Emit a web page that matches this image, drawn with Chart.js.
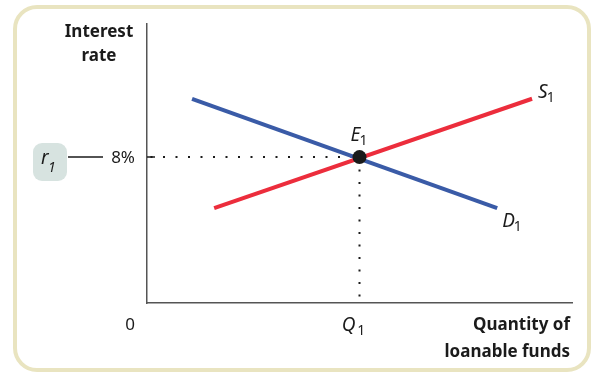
<!DOCTYPE html>
<html>
<head>
<meta charset="utf-8">
<script src="https://cdn.jsdelivr.net/npm/chart.js@4"></script>
<style>
  body { margin: 0; background: #fff; }
  canvas { display: block; }
</style>
</head>
<body>
<canvas id="fondosChart" width="592" height="374"></canvas>
<script>
// datos (cantidad 0-100, tasa en %)
const demandaCantidad = [10.6, 82.4];
const demandaTasa = [11.2, 5.2];
const ofertaCantidad = [15.8, 90.6];
const ofertaTasa = [5.2, 11.2];
const equilibrioCantidad = [50];
const equilibrioTasa = [8];
const etiquetaTasa = '8%';
const etiquetaCantidad = 'Q';
const etiquetaOrigen = '0';
const tituloY = ['Interest', 'rate'];
const tituloX = ['Quantity of', 'loanable funds'];

const FUENTE = '"Noto Sans", "DejaVu Sans", sans-serif';
const TINTA = '#1b1b1b';

function puntos(xs, ys) {
    return xs.map((x, i) => ({ x: x, y: ys[i] }));
}

// texto con subindice: letra en cursiva + "1"
function textoSub(ctx, letra, sub, x, y, align) {
    ctx.save();
    ctx.textBaseline = 'alphabetic';
    ctx.font = 'italic 19px ' + FUENTE;
    const w1 = ctx.measureText(letra).width;
    ctx.font = '14px ' + FUENTE;
    const w2 = ctx.measureText(sub).width;
    let x0 = x;
    if (align === 'center') x0 = x - (w1 + w2) / 2;
    ctx.fillStyle = TINTA;
    ctx.font = 'italic 19px ' + FUENTE;
    ctx.fillText(letra, x0, y);
    ctx.font = '14px ' + FUENTE;
    ctx.fillText(sub, x0 + w1 - 1, y + 4);
    ctx.restore();
}

const decoracion = {
    id: 'decoracion',
    beforeDraw(chart) {
        const ctx = chart.ctx;
        ctx.save();
        ctx.fillStyle = '#fff';
        ctx.fillRect(0, 0, chart.width, chart.height);
        // marco redondeado
        ctx.strokeStyle = '#e9e4c0';
        ctx.lineWidth = 4;
        ctx.beginPath();
        ctx.roundRect(15, 7, 574, 363, 22);
        ctx.stroke();
        ctx.restore();
    },
    afterDraw(chart) {
        const ctx = chart.ctx;
        const x = chart.scales.x;
        const y = chart.scales.y;
        const y8 = y.getPixelForValue(equilibrioTasa[0]);
        const xq = x.getPixelForValue(equilibrioCantidad[0]);
        ctx.save();
        ctx.fillStyle = TINTA;

        // titulos de ejes
        ctx.font = 'bold 17px ' + FUENTE;
        ctx.textAlign = 'center';
        ctx.textBaseline = 'middle';
        ctx.fillText(tituloY[0], 99, 32);
        ctx.fillText(tituloY[1], 99, 56);
        ctx.textAlign = 'right';
        ctx.fillText(tituloX[0], x.right - 2, 325);
        ctx.fillText(tituloX[1], x.right - 2, 352);

        // etiquetas de tick
        ctx.font = '17px ' + FUENTE;
        ctx.textAlign = 'right';
        ctx.fillText(etiquetaTasa, x.left - 12, y8 + 1);
        ctx.textAlign = 'center';
        ctx.fillText(etiquetaOrigen, x.left - 17, 325);
        textoSub(ctx, etiquetaCantidad, '1', xq, 331, 'center');

        // marca corta en el eje y y linea hacia r1
        ctx.strokeStyle = TINTA;
        ctx.lineWidth = 1.5;
        ctx.beginPath();
        ctx.moveTo(x.left, y8);
        ctx.lineTo(x.left + 8, y8);
        ctx.moveTo(68, y8);
        ctx.lineTo(103, y8);
        ctx.stroke();

        // caja r1
        ctx.fillStyle = '#d7e3e0';
        ctx.beginPath();
        ctx.roundRect(33, 143, 34, 38, 9);
        ctx.fill();
        ctx.fillStyle = TINTA;
        ctx.textAlign = 'left';
        ctx.textBaseline = 'alphabetic';
        ctx.font = 'italic 19px ' + FUENTE;
        ctx.fillText('r', 41, 164);
        ctx.font = 'italic 14px ' + FUENTE;
        ctx.fillText('1', 48, 172);

        // etiquetas de curvas
        const s = chart.getDatasetMeta(3).data[1];
        const d = chart.getDatasetMeta(2).data[1];
        textoSub(ctx, 'S', '1', s.x + 6, s.y - 1, 'left');
        textoSub(ctx, 'D', '1', d.x + 5, d.y + 19, 'left');
        textoSub(ctx, 'E', '1', xq, y8 - 16, 'center');
        ctx.restore();
    }
};

const ctx = document.getElementById('fondosChart').getContext('2d');
const fondosChart = new Chart(ctx, {
    type: 'line',
    data: {
        datasets: [
            {
                label: 'guia tasa',
                data: [{ x: 0, y: equilibrioTasa[0] }, { x: equilibrioCantidad[0], y: equilibrioTasa[0] }],
                borderColor: TINTA,
                borderWidth: 2,
                borderDash: [2, 10.5],
                borderDashOffset: -16,
                pointRadius: 0,
                order: 3
            },
            {
                label: 'guia cantidad',
                data: [{ x: equilibrioCantidad[0], y: equilibrioTasa[0] }, { x: equilibrioCantidad[0], y: 0 }],
                borderColor: TINTA,
                borderWidth: 2,
                borderDash: [2, 10.5],
                pointRadius: 0,
                order: 3
            },
            {
                label: 'Demanda',
                data: puntos(demandaCantidad, demandaTasa),
                borderColor: '#3a5ba7',
                borderWidth: 4,
                pointRadius: 0,
                order: 2
            },
            {
                label: 'Oferta',
                data: puntos(ofertaCantidad, ofertaTasa),
                borderColor: '#ec2d3c',
                borderWidth: 4,
                pointRadius: 0,
                order: 1
            },
            {
                label: 'Equilibrio',
                data: puntos(equilibrioCantidad, equilibrioTasa),
                showLine: false,
                pointRadius: 7,
                pointBackgroundColor: '#1a1a1a',
                pointBorderWidth: 0,
                order: 0
            }
        ]
    },
    options: {
        responsive: false,
        animation: false,
        devicePixelRatio: 1,
        clip: false,
        layout: {
            padding: { left: 147, top: 24, right: 20, bottom: 71 }
        },
        plugins: {
            legend: { display: false },
            tooltip: { enabled: false }
        },
        scales: {
            x: {
                type: 'linear',
                min: 0,
                max: 100,
                grid: { display: false, drawTicks: false },
                ticks: { display: false },
                border: { display: true, color: '#555', width: 1.5 }
            },
            y: {
                type: 'linear',
                min: 0,
                max: 15.3,
                grid: { display: false, drawTicks: false },
                ticks: { display: false },
                border: { display: true, color: '#555', width: 1.5 }
            }
        }
    },
    plugins: [decoracion]
});
</script>
</body>
</html>
